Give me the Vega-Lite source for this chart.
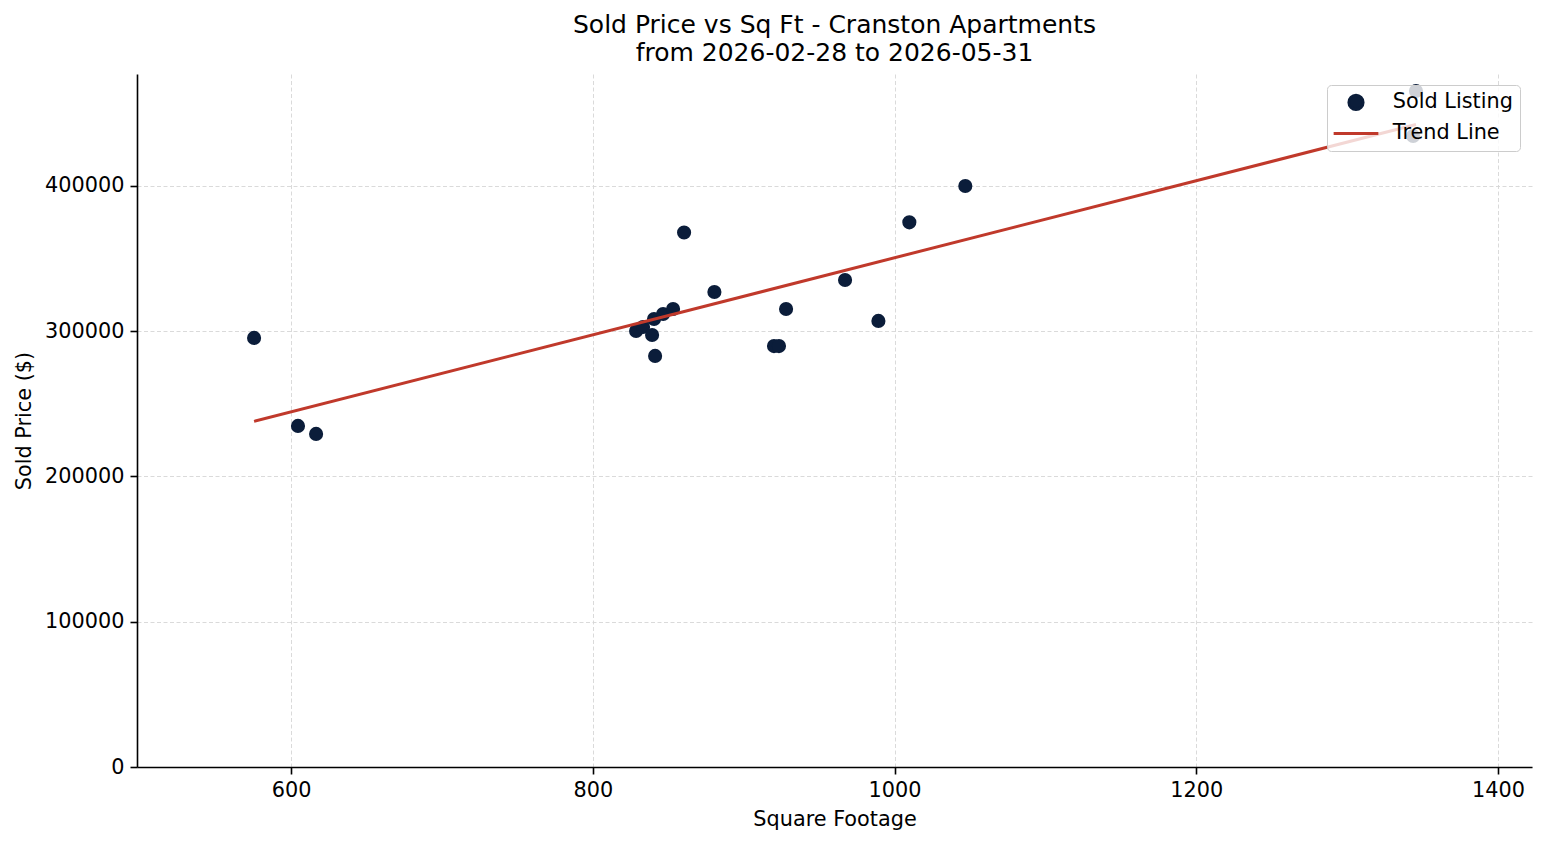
{
  "$schema": "https://vega.github.io/schema/vega-lite/v6.json",
  "width": 1395,
  "height": 693,
  "autosize": {"type": "none"},
  "padding": {"left": 137, "top": 74, "right": 15, "bottom": 78},
  "background": "white",
  "config": {
    "view": {"stroke": null},
    "font": "DejaVu Sans",
    "axis": {
      "domainColor": "#000000",
      "domainWidth": 1.6,
      "tickColor": "#000000",
      "tickWidth": 1.6,
      "tickSize": 7,
      "labelPadding": 6,
      "labelFont": "DejaVu Sans",
      "labelFontSize": 20.8,
      "labelColor": "#000000",
      "labelFlush": false,
      "titleFont": "DejaVu Sans",
      "titleFontSize": 20.8,
      "titleFontWeight": "normal",
      "titleColor": "#000000",
      "gridColor": "#d6d6d6",
      "gridDash": [4, 2.5],
      "gridWidth": 0.9
    }
  },
  "title": {
    "text": ["Sold Price vs Sq Ft - Cranston Apartments", "from 2026-02-28 to 2026-05-31"],
    "fontSize": 25,
    "font": "DejaVu Sans",
    "fontWeight": "normal",
    "color": "#000000",
    "anchor": "middle",
    "lineHeight": 28,
    "offset": 8
  },
  "datasets": {
    "points": [
      {"sqft": 575.5, "price": 295400},
      {"sqft": 604.6, "price": 234800},
      {"sqft": 616.6, "price": 229300},
      {"sqft": 828.7, "price": 300200},
      {"sqft": 833.3, "price": 302900},
      {"sqft": 839.3, "price": 297400},
      {"sqft": 840.6, "price": 308400},
      {"sqft": 841.3, "price": 283000},
      {"sqft": 846.6, "price": 311900},
      {"sqft": 853.2, "price": 315300},
      {"sqft": 860.5, "price": 368000},
      {"sqft": 880.6, "price": 327000},
      {"sqft": 920.1, "price": 289800},
      {"sqft": 923.4, "price": 289800},
      {"sqft": 928.1, "price": 315300},
      {"sqft": 967.2, "price": 335300},
      {"sqft": 989.3, "price": 307100},
      {"sqft": 1009.8, "price": 375000},
      {"sqft": 1046.9, "price": 400000},
      {"sqft": 1343.7, "price": 434400},
      {"sqft": 1345.6, "price": 465400}
    ],
    "trend": [
      {"sqft": 575.5, "price": 237950},
      {"sqft": 1345.6, "price": 442300}
    ]
  },
  "layer": [
    {
      "data": {"name": "points"},
      "mark": {"type": "point", "filled": true, "opacity": 1, "size": 200},
      "encoding": {
        "x": {
          "field": "sqft",
          "type": "quantitative",
          "scale": {"domain": [497.9, 1422.5], "nice": false, "zero": false},
          "axis": {"title": "Square Footage", "values": [600, 800, 1000, 1200, 1400], "format": "d", "grid": true, "titlePadding": 10}
        },
        "y": {
          "field": "price",
          "type": "quantitative",
          "scale": {"domain": [0, 477100], "nice": false, "zero": true},
          "axis": {"title": "Sold Price ($)", "values": [0, 100000, 200000, 300000, 400000], "format": "d", "grid": true, "titlePadding": 10}
        },
        "color": {
          "datum": "Sold Listing",
          "type": "nominal",
          "scale": {"domain": ["Sold Listing", "Trend Line"], "range": ["#0b1d3a", "#c0392b"]},
          "legend": {
            "orient": "none",
            "legendX": 1190,
            "legendY": 11,
            "title": null,
            "labelFont": "DejaVu Sans",
            "labelFontSize": 20.8,
            "labelColor": "#000000",
            "fillColor": "rgba(255,255,255,0.8)",
            "strokeColor": "#cccccc",
            "cornerRadius": 4,
            "padding": 7,
            "labelOffset": 38,
            "rowPadding": 6,
            "symbolSize": 2000,
            "encode": {
              "symbols": {
                "update": {
                  "x": {"value": 22},
                  "shape": {"signal": "datum.value === 'Trend Line' ? 'stroke' : 'circle'"},
                  "size": {"signal": "datum.value === 'Trend Line' ? 2000 : 200"},
                  "fill": {"signal": "datum.value === 'Trend Line' ? 'transparent' : '#0b1d3a'"},
                  "stroke": {"signal": "datum.value === 'Trend Line' ? '#c0392b' : 'transparent'"},
                  "strokeWidth": {"value": 3},
                  "opacity": {"value": 1}
                }
              }
            }
          }
        }
      }
    },
    {
      "data": {"name": "trend"},
      "mark": {"type": "line", "strokeWidth": 3},
      "encoding": {
        "x": {"field": "sqft", "type": "quantitative"},
        "y": {"field": "price", "type": "quantitative"},
        "color": {
          "datum": "Trend Line",
          "type": "nominal",
          "legend": {
            "orient": "none",
            "legendX": 1190,
            "legendY": 11,
            "title": null,
            "labelFont": "DejaVu Sans",
            "labelFontSize": 20.8,
            "labelColor": "#000000",
            "fillColor": "rgba(255,255,255,0.8)",
            "strokeColor": "#cccccc",
            "cornerRadius": 4,
            "padding": 7,
            "labelOffset": 38,
            "rowPadding": 6,
            "symbolSize": 2000,
            "encode": {
              "symbols": {
                "update": {
                  "x": {"value": 22},
                  "shape": {"signal": "datum.value === 'Trend Line' ? 'stroke' : 'circle'"},
                  "size": {"signal": "datum.value === 'Trend Line' ? 2000 : 200"},
                  "fill": {"signal": "datum.value === 'Trend Line' ? 'transparent' : '#0b1d3a'"},
                  "stroke": {"signal": "datum.value === 'Trend Line' ? '#c0392b' : 'transparent'"},
                  "strokeWidth": {"value": 3},
                  "opacity": {"value": 1}
                }
              }
            }
          }
        }
      }
    }
  ]
}
